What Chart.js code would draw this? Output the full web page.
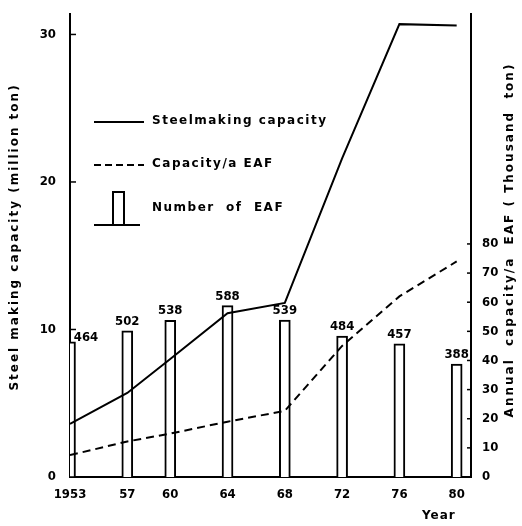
<!DOCTYPE html>
<html>
<head>
<meta charset="utf-8">
<script src="https://cdn.jsdelivr.net/npm/chart.js@4"></script>
<style>
html,body{margin:0;padding:0;background:#fff;}
canvas{display:block;}
</style>
</head>
<body>
<canvas id="c" width="522" height="526"></canvas>
<script>
// ---- data ----
const years = [1953, 1957, 1960, 1964, 1968, 1972, 1976, 1980];
const xTickLabels = ['1953', '57', '60', '64', '68', '72', '76', '80'];
const steelCapacity = [3.6, 5.7, 8.0, 11.1, 11.8, 21.6, 30.7, 30.6];      // million ton
const capacityPerEAF = [7.5, 12.2, 14.9, 19.0, 22.7, 45.0, 62.0, 74.0];  // thousand ton
const numberOfEAF = [464, 502, 538, 588, 539, 484, 457, 388];
const leftTicks = [0, 10, 20, 30];
const rightTicks = [0, 10, 20, 30, 40, 50, 60, 70, 80];
const leftTitle = 'Steel making capacity (million ton)';
const rightTitle = 'Annual  capacity/a  EAF ( Thousand  ton)';
const xTitle = 'Year';
const legendLabels = ['Steelmaking capacity', 'Capacity/a EAF', 'Number  of  EAF'];

const tickFont = {family: "'Liberation Sans Narrow','DejaVu Sans Condensed',sans-serif", size: 13, weight: 'bold'};
const textFont = "bold 12px 'DejaVu Sans', sans-serif";

const labelsPlugin = {
  id: 'extras',
  afterDatasetsDraw(chart) {
    const ctx = chart.ctx;
    const area = chart.chartArea;
    const barMeta = chart.getDatasetMeta(2);
    ctx.save();
    ctx.fillStyle = '#000';
    ctx.font = "bold 13px 'Liberation Sans Narrow','DejaVu Sans Condensed',sans-serif";
    ctx.textAlign = 'center';
    ctx.textBaseline = 'bottom';
    barMeta.data.forEach((el, i) => {
      let x = el.x;
      let y = el.y - 3;
      if (x - 12 < area.left) { x = area.left + 16; y = el.y + 2; }
      ctx.fillText(String(numberOfEAF[i]), x, y);
    });
    ctx.restore();
  },
  afterDraw(chart) {
    const ctx = chart.ctx;
    const area = chart.chartArea;
    const yL = chart.scales.y, yR = chart.scales.y2;
    ctx.save();
    ctx.strokeStyle = '#000';
    ctx.lineWidth = 1.5;
    leftTicks.forEach(v => {
      const p = yL.getPixelForValue(v);
      ctx.beginPath(); ctx.moveTo(area.left, p); ctx.lineTo(area.left + 6, p); ctx.stroke();
    });
    rightTicks.forEach(v => {
      const p = yR.getPixelForValue(v);
      ctx.beginPath(); ctx.moveTo(area.right - 4, p); ctx.lineTo(area.right, p); ctx.stroke();
    });
    // legend
    ctx.lineWidth = 2;
    const lx0 = area.left + 24, lx1 = area.left + 74, tx = area.left + 82;
    ctx.font = textFont;
    ctx.letterSpacing = '1.5px';
    ctx.fillStyle = '#000';
    ctx.textBaseline = 'middle';
    ctx.textAlign = 'left';
    ctx.beginPath(); ctx.moveTo(lx0, 122); ctx.lineTo(lx1, 122); ctx.stroke();
    ctx.fillText(legendLabels[0], tx, 121);
    ctx.setLineDash([7, 4]);
    ctx.beginPath(); ctx.moveTo(lx0, 165); ctx.lineTo(lx1, 165); ctx.stroke();
    ctx.setLineDash([]);
    ctx.fillText(legendLabels[1], tx, 164);
    ctx.beginPath(); ctx.moveTo(lx0, 225); ctx.lineTo(lx1 - 4, 225); ctx.stroke();
    ctx.strokeRect(area.left + 43, 192, 11, 33);
    ctx.fillText(legendLabels[2], tx, 208);
    // x title
    ctx.letterSpacing = '1px';
    ctx.fillText(xTitle, area.right - 49, 516);
    // axis titles, both reading bottom-to-top
    const midY = 240;
    ctx.textAlign = 'center';
    ctx.letterSpacing = '2px';
    ctx.save();
    ctx.translate(15, midY - 3);
    ctx.rotate(-Math.PI / 2);
    ctx.fillText(leftTitle, 0, 0);
    ctx.restore();
    ctx.save();
    ctx.translate(510, midY);
    ctx.rotate(-Math.PI / 2);
    ctx.fillText(rightTitle, 0, 0);
    ctx.restore();
    ctx.restore();
  }
};

new Chart(document.getElementById('c'), {
  type: 'bar',
  data: {
    datasets: [
      {
        type: 'line',
        label: 'Steelmaking capacity',
        data: years.map((y, i) => ({x: y, y: steelCapacity[i]})),
        yAxisID: 'y',
        borderColor: '#000',
        borderWidth: 2,
        pointRadius: 0,
        tension: 0,
        fill: false,
        order: 0
      },
      {
        type: 'line',
        label: 'Capacity/a EAF',
        data: years.map((y, i) => ({x: y, y: capacityPerEAF[i]})),
        yAxisID: 'y2',
        borderColor: '#000',
        borderWidth: 2,
        borderDash: [8, 5],
        pointRadius: 0,
        tension: 0,
        fill: false,
        order: 1
      },
      {
        type: 'bar',
        label: 'Number of EAF',
        data: years.map((y, i) => ({x: y, y: numberOfEAF[i]})),
        yAxisID: 'yN',
        backgroundColor: '#fff',
        borderColor: '#000',
        borderWidth: 2,
        borderSkipped: 'bottom',
        barThickness: 11,
        order: 2
      }
    ]
  },
  options: {
    responsive: false,
    animation: false,
    events: [],
    layout: {padding: {top: 0, left: 0, right: 0, bottom: 0}},
    plugins: {legend: {display: false}, tooltip: {enabled: false}},
    scales: {
      x: {
        type: 'linear',
        min: 1953,
        max: 1981,
        offset: false,
        grid: {display: false},
        border: {display: true, color: '#000', width: 2},
        afterBuildTicks: s => { s.ticks = years.map(v => ({value: v})); },
        afterFit: s => { s.height = 49; },
        ticks: {
          color: '#000',
          font: tickFont,
          padding: 2,
          autoSkip: false,
          maxRotation: 0,
          callback: (v) => xTickLabels[years.indexOf(v)]
        }
      },
      y: {
        position: 'left',
        min: 0,
        max: 31.4,
        grid: {display: false},
        border: {display: true, color: '#000', width: 2},
        afterBuildTicks: s => { s.ticks = leftTicks.map(v => ({value: v})); },
        afterFit: s => { s.width = 70; },
        ticks: {color: '#000', font: tickFont, padding: 6},
        title: {display: false}
      },
      y2: {
        position: 'right',
        min: 0,
        max: 159,
        grid: {display: false},
        border: {display: true, color: '#000', width: 2},
        afterBuildTicks: s => { s.ticks = rightTicks.map(v => ({value: v})); },
        afterFit: s => { s.width = 51; },
        ticks: {color: '#000', font: tickFont, padding: 3},
        title: {display: false}
      },
      yN: {
        display: false,
        min: 0,
        max: 1590
      }
    }
  },
  plugins: [labelsPlugin]
});
</script>
</body>
</html>
